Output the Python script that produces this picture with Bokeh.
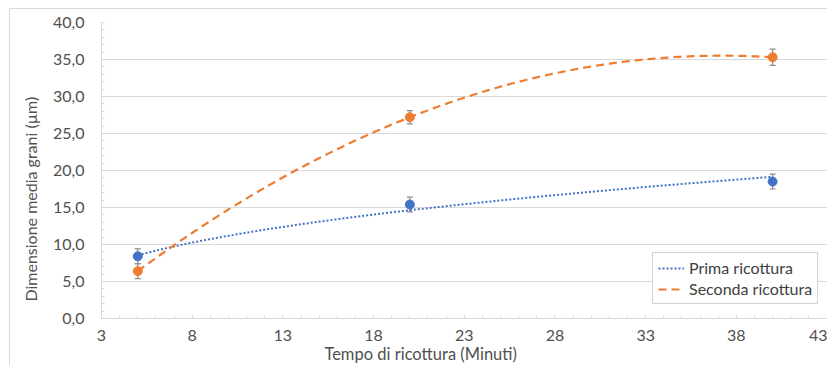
import numpy as np
from bokeh.plotting import figure
from bokeh.models import (ColumnDataSource, Whisker, TeeHead, CustomJSTickFormatter,
                          FixedTicker, Range1d, Legend, LegendItem)
from bokeh.embed import file_html
from bokeh.resources import INLINE

# ---- data ----
times = [5, 20, 40]
prima = [8.4, 15.4, 18.5]
prima_err = [1.0, 1.0, 1.0]
seconda = [6.4, 27.2, 35.3]
seconda_err = [1.0, 0.9, 1.1]
series_names = ["Prima ricottura", "Seconda ricottura"]
x_ticks = [3, 8, 13, 18, 23, 28, 33, 38, 43]
y_ticks = [0, 5, 10, 15, 20, 25, 30, 35, 40]
x_title = "Tempo di ricottura (Minuti)"
y_title = "Dimensione media grani (µm)"

BLUE = "#4472C4"
ORANGE = "#ED7D31"
GRID = "#d9d9d9"
TXT = "#505050"
FONT = "Lato"
NB = "\u00a0"

# trend lines (as Excel: power fit for first series, 2nd-order polynomial for second)
xs = np.linspace(min(times), max(times), 200)
b_pow, lna_pow = np.polyfit(np.log(times), np.log(prima), 1)
trend_prima = np.exp(lna_pow) * xs ** b_pow
coef_poly = np.polyfit(times, seconda, 2)
trend_seconda = np.polyval(coef_poly, xs)

p = figure(width=818, height=357, output_backend="svg", toolbar_location=None,
           x_range=Range1d(3, 43.08), y_range=Range1d(0, 40),
           min_border_left=91, min_border_top=13, min_border_right=0, min_border_bottom=48)
p.border_fill_color = "white"
p.background_fill_color = "white"
p.outline_line_color = None
p.styles = {"margin-left": "9px", "margin-top": "8px", "overflow": "hidden",
            "border-left": "1px solid #d9d9d9", "border-top": "1px solid #d9d9d9"}

# grid
p.xgrid.grid_line_color = None
p.ygrid.grid_line_color = GRID
p.ygrid.grid_line_width = 1

# axes
p.xaxis.ticker = FixedTicker(ticks=x_ticks, minor_ticks=list(range(3, 44)))
p.yaxis.ticker = FixedTicker(ticks=y_ticks, minor_ticks=list(range(0, 41)))
p.yaxis.formatter = CustomJSTickFormatter(code="return tick.toFixed(1).replace('.', ',');")
for ax in (p.xaxis[0], p.yaxis[0]):
    ax.axis_line_color = GRID
    ax.major_tick_line_color = GRID
    ax.minor_tick_line_color = GRID
    ax.major_tick_in = 3
    ax.major_tick_out = 0
    ax.minor_tick_in = 3
    ax.minor_tick_out = 0
    ax.major_label_text_font = FONT
    ax.major_label_text_font_size = "16px"
    ax.major_label_text_color = TXT
    ax.axis_label_text_font = FONT
    ax.axis_label_text_font_style = "normal"
    ax.axis_label_text_color = TXT
p.xaxis.axis_label_text_font_size = "16.5px"
p.yaxis.axis_label_text_font_size = "16px"
# trailing no-break spaces shift the centred titles to where the reference has them
p.xaxis.axis_label = x_title + NB * 21
p.yaxis.axis_label = y_title + NB * 14
p.yaxis.major_label_standoff = 17
p.yaxis.axis_label_standoff = 10
p.xaxis.major_label_standoff = 11
p.xaxis.axis_label_standoff = 0

# error bars
src1 = ColumnDataSource(dict(x=times, y=prima,
                             lo=[v - e for v, e in zip(prima, prima_err)],
                             hi=[v + e for v, e in zip(prima, prima_err)]))
src2 = ColumnDataSource(dict(x=times, y=seconda,
                             lo=[v - e for v, e in zip(seconda, seconda_err)],
                             hi=[v + e for v, e in zip(seconda, seconda_err)]))
EB = "#8c8c8c"
for s in (src1, src2):
    w = Whisker(source=s, base="x", upper="hi", lower="lo", line_color=EB, line_width=1.2,
                upper_head=TeeHead(size=6, line_color=EB, line_width=1.2),
                lower_head=TeeHead(size=6, line_color=EB, line_width=1.2))
    w.level = "underlay"
    p.add_layout(w)

# markers
p.scatter("x", "y", source=src1, size=9, color=BLUE)
p.scatter("x", "y", source=src2, size=9, color=ORANGE)

# trend lines
r1 = p.line(xs, trend_prima, line_color=BLUE, line_width=2, line_dash="2 2")
r2 = p.line(xs, trend_seconda, line_color=ORANGE, line_width=2.2, line_dash="8 5")

legend = Legend(items=[LegendItem(label=series_names[0], renderers=[r1]),
                       LegendItem(label=series_names[1], renderers=[r2])],
                location=(551, 14))
legend.label_text_font = FONT
legend.label_text_font_size = "16px"
legend.label_text_color = "#404040"
legend.glyph_width = 26
legend.glyph_height = 16
legend.label_standoff = 5
legend.spacing = 2
legend.padding = 5
legend.margin = 0
legend.border_line_color = "#a6a6a6"
legend.border_line_width = 1
legend.background_fill_color = "white"
legend.background_fill_alpha = 1
p.add_layout(legend)

open("out.html", "w").write(file_html(p, INLINE))
